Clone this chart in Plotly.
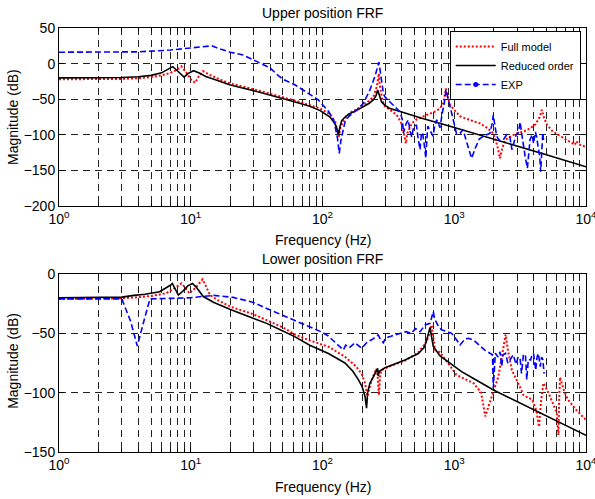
import plotly.graph_objects as go

# ---------------- Upper position FRF ----------------
up_red_f = [1, 2, 3, 4, 5, 6, 7, 7.8, 8.5, 9.2, 10, 10.8, 11.5, 12.4, 14, 17, 20, 30, 40, 62, 96, 114, 125,
            130, 133, 137, 145, 162, 204, 243, 258, 265, 268, 272, 285, 298, 330, 366, 400, 420, 430, 440,
            476, 520, 617, 700, 780, 828, 850, 865, 885, 930, 1000, 1106, 1300, 1567, 1800, 1980, 2120, 2225,
            2320, 2450, 2700, 2980, 3400, 3760, 4150, 4450, 4620, 4800, 5060, 5500, 6000, 6810, 7500, 8240,
            8400, 8700, 9000, 10000]
up_red_db = [-22, -22, -21.5, -20.5, -19, -16.5, -13, -9, -4, -12, -22, -27, -18, -10.5, -16, -23, -28, -36,
             -42, -52, -63, -71, -82, -95, -103, -90, -79, -69, -59, -47, -33, -20, -14, -30, -52, -60, -66,
             -72, -85, -105, -112, -98, -84, -78, -72, -68, -63, -55, -43, -35, -45, -58, -65, -74, -79, -84,
             -91, -98, -115, -133, -118, -107, -102, -98, -95, -91, -85, -75, -65, -76, -86, -94, -99, -105,
             -110, -114, -109, -111, -114, -117]

up_blk_f = [1, 2, 3, 4, 5, 6, 6.8, 7.3, 7.8, 8.4, 8.9, 9.5, 10.5, 11.5, 13, 15, 20, 30, 40, 62, 80, 96, 114,
            124, 129, 132, 136, 140, 150, 162, 185, 204, 225, 243, 255, 262, 270, 281, 300, 325, 400, 550,
            929, 2000, 5000, 10000]
up_blk_db = [-20, -20, -19.5, -18.5, -16.5, -13, -8, -4.3, -9, -15, -19, -14, -10, -13, -18, -22, -30, -38,
             -44, -54, -60, -66, -75, -84, -92, -100, -88, -80, -74, -70, -65, -61, -56, -51, -45, -37, -46,
             -54, -59, -63, -68, -76, -88, -106, -128, -145]

up_exp_f = [1, 2, 3, 4, 5, 7, 10, 12, 14.4, 17, 20, 25, 30, 35, 40, 45, 50, 62, 78, 93, 111, 122, 130, 134,
            138, 144, 148, 157, 177, 182, 204, 229, 250, 262, 268, 274, 283, 290, 298, 334, 389, 405, 411,
            430, 448, 462, 476, 490, 516, 532, 550, 562, 575, 590, 609, 620, 630, 660, 690, 710, 735, 760,
            780, 810, 840, 865, 890, 929, 980, 1039, 1106, 1167, 1250, 1355, 1450, 1550, 1660, 1865, 1940,
            1980, 2030, 2100, 2200, 2357, 2500, 2650, 2740, 2850, 2950, 3070, 3160, 3250, 3350, 3450, 3590,
            3680, 3760, 3900, 4000, 4130, 4230, 4340, 4450, 4530, 4610, 4700, 4780]
up_exp_db = [16, 16, 16, 16.5, 17.5, 19, 22, 24, 25, 20, 16, 12, 5, -1, -6, -15, -22, -30, -42, -51, -67,
             -80, -105, -126, -108, -93, -82, -75, -67, -65, -56, -37, -18, -3, 2, -10, -30, -42, -47, -56,
             -68, -80, -98, -85, -79, -95, -103, -90, -86, -105, -121, -100, -97, -112, -133, -105, -88, -95,
             -102, -88, -79, -85, -90, -70, -56, -37, -48, -60, -78, -98, -98, -93, -112, -133, -118, -106,
             -102, -98, -84, -72, -86, -102, -108, -107, -100, -104, -121, -108, -100, -97, -82, -98, -118,
             -130, -147, -125, -107, -100, -112, -96, -104, -118, -130, -152, -120, -97, -110]

# ---------------- Lower position FRF ----------------
lo_red_f = [1, 2, 3, 4, 5, 6, 6.56, 7.5, 8.5, 9.0, 9.76, 10.8, 11.6, 12.3, 13, 14, 16, 20, 30, 37.7, 50, 62,
            80, 111, 148, 180, 198, 210, 220, 226, 235, 255, 262, 268, 274, 281, 320, 423, 534, 600, 640, 674,
            690, 714, 780, 1039, 1400, 1600, 1720, 1830, 1930, 2160, 2350, 2456, 2560, 2740, 3240, 3350, 3900,
            4200, 4400, 4550, 4750, 5000, 5186, 6000, 6170, 6260, 6350, 6800, 7300, 8500, 10000]
lo_red_db = [-21, -21, -20.5, -19.5, -18.5, -17, -16, -12, -7.9, -11, -16.3, -12, -8, -4.5, -10, -17.7, -22,
             -27.5, -34, -38.8, -45, -51, -56, -61.3, -69.7, -78, -84, -92, -103, -97, -90, -80, -85, -102,
             -85, -81, -78, -73, -66, -59, -52, -43, -50, -64, -66, -85, -92, -100, -120, -110, -103, -86.5,
             -65, -51, -65, -81, -98, -102, -106, -115, -128.7, -108, -92, -97, -100, -117, -135.7, -105, -87,
             -98, -106, -115, -123]

lo_blk_f = [1, 2, 3, 3.7, 4.5, 5.8, 6.5, 7.0, 7.25, 7.6, 8.05, 8.8, 9.5, 10.3, 11, 12.45, 15, 20, 30, 37.7,
            50, 62, 80, 111, 148, 170, 187, 200, 210, 216, 220, 229, 245, 262, 265, 270, 298, 350, 423, 534,
            590, 617, 640, 655, 670, 693, 780, 1137, 1500, 2000, 10000]
lo_blk_db = [-20, -20, -19.5, -18, -17, -15, -12, -9.5, -8, -12, -17.7, -14, -10, -8, -11, -19, -24, -30, -37,
             -41.6, -48, -53, -60, -67, -75, -82, -89, -95, -103, -113, -100, -92, -86, -79.5, -86, -82, -79,
             -76, -72.5, -67, -62, -56, -50, -45, -52, -61, -69, -82.3, -90, -98, -136]

lo_exp_f = [1, 2, 3, 3.5, 3.93, 4.4, 4.9, 7, 10, 12, 15, 21, 30, 37.7, 50, 62, 80, 99, 110, 120, 130, 144,
            150, 160, 177, 190, 198, 220, 240, 265, 275, 290, 300, 340, 389, 430, 470, 510, 550, 600, 655,
            680, 693, 710, 740, 762, 800, 870, 956, 1050, 1106, 1200, 1279, 1400, 1550, 1700, 1865, 1950,
            1980, 2020, 2050, 2150, 2225, 2290, 2350, 2450, 2550, 2650, 2800, 2950, 3050, 3160, 3240, 3350,
            3470, 3550, 3650, 3800, 3900, 4000, 4150, 4250, 4350, 4500, 4600, 4700, 4810]
lo_exp_db = [-21, -21, -21, -40, -60.7, -40, -21, -20.5, -20, -19, -18, -19.7, -24, -29, -35, -39, -45, -49,
             -52, -56, -59, -64, -60, -62, -58, -61, -62.6, -57, -55, -51.4, -55, -58, -54, -52, -50, -48.6,
             -50, -46, -48.6, -43, -41.6, -36, -31.7, -38, -42, -44.4, -47, -48.6, -50, -56, -59.8, -55, -54.2,
             -55.6, -60, -64, -66.8, -68, -96, -70, -66.8, -70, -65.5, -78, -68, -66.8, -75, -72.5, -68, -76,
             -70, -71, -83.7, -68, -68, -89, -72, -72.5, -68, -67, -81, -70, -67, -78, -70, -72, -84]

# ---------------- Axis text ----------------
x_tick_vals = [1, 10, 100, 1000, 10000]
x_tick_text = ["10<sup>0</sup>", "10<sup>1</sup>", "10<sup>2</sup>", "10<sup>3</sup>", "10<sup>4</sup>"]
x_minor_vals = [m * d for d in (1, 10, 100, 1000) for m in range(2, 10)]
up_y_ticks = [50, 0, -50, -100, -150, -200]
lo_y_ticks = [0, -50, -100, -150]

RED = "#ff0000"
BLUE = "#0000ff"
FONT = "Liberation Sans, Arial, Helvetica, sans-serif"
RED_LINE = dict(color=RED, width=2, dash="2px,2px")
BLK_LINE = dict(color="black", width=1.6)
BLU_LINE = dict(color=BLUE, width=1.6, dash="6px,3px")

fig = go.Figure()

# upper
fig.add_trace(go.Scatter(x=up_red_f, y=up_red_db, mode="lines", name="Full model",
                         line=RED_LINE, xaxis="x", yaxis="y"))
fig.add_trace(go.Scatter(x=up_blk_f, y=up_blk_db, mode="lines", name="Reduced order",
                         line=BLK_LINE, xaxis="x", yaxis="y"))
fig.add_trace(go.Scatter(x=up_exp_f, y=up_exp_db, mode="lines", name="EXP", showlegend=False,
                         line=BLU_LINE, xaxis="x", yaxis="y"))
fig.add_trace(go.Scatter(x=[None], y=[None], mode="lines+markers", name="EXP",
                         line=BLU_LINE, marker=dict(color=BLUE, size=5), xaxis="x", yaxis="y"))
# lower
fig.add_trace(go.Scatter(x=lo_red_f, y=lo_red_db, mode="lines", showlegend=False,
                         line=RED_LINE, xaxis="x2", yaxis="y2"))
fig.add_trace(go.Scatter(x=lo_blk_f, y=lo_blk_db, mode="lines", showlegend=False,
                         line=BLK_LINE, xaxis="x2", yaxis="y2"))
fig.add_trace(go.Scatter(x=lo_exp_f, y=lo_exp_db, mode="lines", showlegend=False,
                         line=BLU_LINE, xaxis="x2", yaxis="y2"))

GRID = dict(showgrid=True, gridcolor="#222222", griddash="7px,5px", gridwidth=1)
TICKFONT = dict(family=FONT, size=14, color="black")


def xaxis_cfg(anchor):
    return dict(type="log", range=[0, 4], anchor=anchor, tickmode="array", automargin=False,
                tickvals=x_tick_vals, ticktext=x_tick_text, ticks="inside", ticklen=5,
                tickcolor="black", showline=True, linecolor="black", linewidth=1,
                mirror="allticks", zeroline=False, tickfont=TICKFONT, ticklabeloverflow="allow",
                minor=dict(tickmode="array", tickvals=x_minor_vals, ticks="inside", ticklen=3,
                           tickcolor="black", **GRID),
                **GRID)


def yaxis_cfg(anchor, rng, ticks, domain):
    return dict(range=rng, anchor=anchor, domain=domain, tickmode="array", tickvals=ticks,
                automargin=False, ticklabeloverflow="allow",
                ticks="inside", ticklen=5, tickcolor="black", showline=True, linecolor="black",
                linewidth=1, mirror="allticks", zeroline=False, tickfont=TICKFONT, **GRID)


fig.update_layout(
    width=595, height=499,
    margin=dict(l=59, r=9, t=28, b=47, autoexpand=False),
    paper_bgcolor="white", plot_bgcolor="white",
    showlegend=True,
    xaxis=xaxis_cfg("y"),
    yaxis=yaxis_cfg("x", [-200, 50], up_y_ticks, [0.5802, 1.0]),
    xaxis2=xaxis_cfg("y2"),
    yaxis2=yaxis_cfg("x2", [-150, 0], lo_y_ticks, [0.0, 0.4198]),
    legend=dict(x=0.99, y=0.993, xanchor="right", yanchor="top", bgcolor="white",
                bordercolor="black", borderwidth=1, font=dict(family=FONT, size=11, color="black"),
                tracegroupgap=0, itemwidth=40),
    font=dict(family=FONT, size=14, color="black"),
)

ann = dict(xref="paper", yref="paper", showarrow=False, font=dict(family=FONT, size=14, color="black"))
fig.add_annotation(text="Upper position FRF", x=0.5, y=1.035, xanchor="center", yanchor="middle", **ann)
fig.add_annotation(text="Frequency (Hz)", x=0.5, y=0.5, xanchor="center", yanchor="middle", **ann)
fig.add_annotation(text="Lower position FRF", x=0.5, y=0.455, xanchor="center", yanchor="middle", **ann)
fig.add_annotation(text="Frequency (Hz)", x=0.5, y=-0.0825, xanchor="center", yanchor="middle", **ann)
fig.add_annotation(text="Magnitude (dB)", x=-0.0873, y=0.79, xanchor="center", yanchor="middle",
                   textangle=-90, **ann)
fig.add_annotation(text="Magnitude (dB)", x=-0.0873, y=0.215, xanchor="center", yanchor="middle",
                   textangle=-90, **ann)

fig.write_html("out.html", config={"displayModeBar": False},
               post_script="document.body.style.margin='0';")
